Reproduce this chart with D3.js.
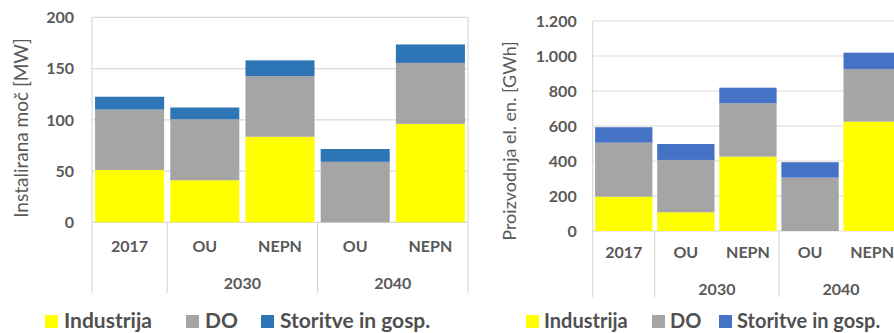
<!DOCTYPE html>
<html>
<head>
<meta charset="utf-8">
<script src="https://cdn.jsdelivr.net/npm/d3@7"></script>
<style>
  html, body { margin: 0; padding: 0; background: #fff; }
  svg { display: block; }
  text { font-family: Lato, "Open Sans", sans-serif; }
</style>
</head>
<body>
<svg id="chart" width="894" height="333"></svg>
<script>
// ---- Data ----
const categories = ["2017", "OU", "NEPN", "OU", "NEPN"];
const groupLabels = ["", "2030", "2040"];
const groupStarts = [0, 1, 3];
const groupEnds = [0, 2, 4];
const seriesNames = ["Industrija", "DO", "Storitve in gosp."];

const powerIndustrija = [51, 41, 83.5, 0, 96];
const powerDO = [59, 59.5, 59, 59, 59.5];
const powerStoritve = [12.5, 11.5, 15.5, 12.5, 18];
const powerTicks = [0, 50, 100, 150, 200];
const powerTickLabels = ["0", "50", "100", "150", "200"];
const powerTitle = "Instalirana moč [MW]";

const energyIndustrija = [196, 107, 425, 0, 625];
const energyDO = [309, 299, 305, 305, 301];
const energyStoritve = [88, 91, 89, 88, 93];
const energyTicks = [0, 200, 400, 600, 800, 1000, 1200];
const energyTickLabels = ["0", "200", "400", "600", "800", "1.000", "1.200"];
const energyTitle = "Proizvodnja el. en. [GWh]";

// ---- Drawing ----
const svg = d3.select("#chart");
const gridColor = "#D9D9D9";
const textColor = "#595959";

function drawPanel(cfg) {
  const g = svg.append("g");
  const x = d3.scaleBand()
    .domain(d3.range(categories.length))
    .range([cfg.left, cfg.right])
    .paddingInner(cfg.pad)
    .paddingOuter(cfg.pad / 2);
  const y = d3.scaleLinear()
    .domain([0, cfg.ticks[cfg.ticks.length - 1]])
    .range([cfg.bottom, cfg.top]);

  // gridlines
  g.append("g").selectAll("line").data(cfg.ticks).join("line")
    .attr("x1", cfg.left).attr("x2", cfg.right)
    .attr("y1", d => y(d)).attr("y2", d => y(d))
    .attr("stroke", gridColor).attr("stroke-width", 1.2);

  // tick labels
  g.append("g").selectAll("text").data(cfg.ticks).join("text")
    .attr("x", cfg.left - cfg.tickGap)
    .attr("y", d => y(d))
    .attr("dy", "0.36em")
    .attr("text-anchor", "end")
    .attr("fill", textColor)
    .attr("font-size", cfg.tickSize)
    .attr("font-weight", "bold")
    .text((d, i) => cfg.tickLabels[i]);

  // stacked bars
  const rows = categories.map((c, i) => ({
    i: i, a: cfg.s[0][i], b: cfg.s[1][i], c: cfg.s[2][i]
  }));
  const stack = d3.stack().keys(["a", "b", "c"])(rows);
  g.append("g").selectAll("g").data(stack).join("g")
    .attr("fill", (d, k) => cfg.colors[k])
    .selectAll("rect").data(d => d).join("rect")
    .attr("x", d => x(d.data.i))
    .attr("width", x.bandwidth())
    .attr("y", d => y(d[1]))
    .attr("height", d => Math.max(0, y(d[0]) - y(d[1])));

  // borders / separators
  const step = x.step();
  const bounds = [cfg.left, cfg.right];
  g.append("g").selectAll("line").data(bounds).join("line")
    .attr("x1", d => d).attr("x2", d => d)
    .attr("y1", cfg.top).attr("y2", cfg.sepBottom)
    .attr("stroke", gridColor).attr("stroke-width", 1.2);
  const inner = groupStarts.slice(1).map(s => cfg.left + s * step);
  g.append("g").selectAll("line").data(inner).join("line")
    .attr("x1", d => d).attr("x2", d => d)
    .attr("y1", cfg.bottom).attr("y2", cfg.sepBottom)
    .attr("stroke", gridColor).attr("stroke-width", 1.2);

  // category labels
  g.append("g").selectAll("text").data(categories).join("text")
    .attr("x", (d, i) => x(i) + x.bandwidth() / 2)
    .attr("y", cfg.catY)
    .attr("text-anchor", "middle")
    .attr("fill", textColor)
    .attr("font-size", cfg.catSize)
    .attr("font-weight", "bold")
    .text(d => d);

  // group labels
  g.append("g").selectAll("text").data(groupLabels).join("text")
    .attr("x", (d, i) => cfg.left + (groupStarts[i] + groupEnds[i] + 1) / 2 * step)
    .attr("y", cfg.groupY)
    .attr("text-anchor", "middle")
    .attr("fill", textColor)
    .attr("font-size", cfg.catSize)
    .attr("font-weight", "bold")
    .text(d => d);

  // y title
  g.append("text")
    .attr("transform", `translate(${cfg.titleX},${cfg.titleY}) rotate(-90)`)
    .attr("text-anchor", "middle")
    .attr("dy", "0.35em")
    .attr("fill", textColor)
    .attr("font-size", cfg.titleSize)
    .text(cfg.title);

  // legend
  const lg = g.append("g");
  seriesNames.forEach((name, k) => {
    lg.append("rect")
      .attr("x", cfg.legX[k]).attr("y", cfg.legY - cfg.legBox)
      .attr("width", cfg.legBox).attr("height", cfg.legBox)
      .attr("fill", cfg.colors[k]);
    lg.append("text")
      .attr("x", cfg.legX[k] + cfg.legBox + cfg.legGap)
      .attr("y", cfg.legY)
      .attr("fill", "#505050")
      .attr("font-size", cfg.legSize)
      .attr("font-weight", "bold")
      .text(name);
  });
}

drawPanel({
  s: [powerIndustrija, powerDO, powerStoritve],
  ticks: powerTicks, tickLabels: powerTickLabels, title: powerTitle,
  colors: ["#FFFF00", "#A5A5A5", "#2E75B6"],
  left: 92, right: 468, top: 17.3, bottom: 222.3, pad: 0.082,
  sepBottom: 293, catY: 252, groupY: 289,
  tickGap: 18, tickSize: 16, catSize: 16,
  titleX: 21, titleY: 128, titleSize: 19,
  legX: [45, 186, 261], legY: 328, legBox: 13, legGap: 6, legSize: 21
});

drawPanel({
  s: [energyIndustrija, energyDO, energyStoritve],
  ticks: energyTicks, tickLabels: energyTickLabels, title: energyTitle,
  colors: ["#FFFF00", "#A5A5A5", "#4472C4"],
  left: 592.7, right: 903.2, top: 21, bottom: 231, pad: 0.077,
  sepBottom: 297, catY: 258, groupY: 295,
  tickGap: 16, tickSize: 16, catSize: 16,
  titleX: 510, titleY: 141, titleSize: 18,
  legX: [526, 652, 719], legY: 328, legBox: 13, legGap: 5, legSize: 20
});
</script>
</body>
</html>
